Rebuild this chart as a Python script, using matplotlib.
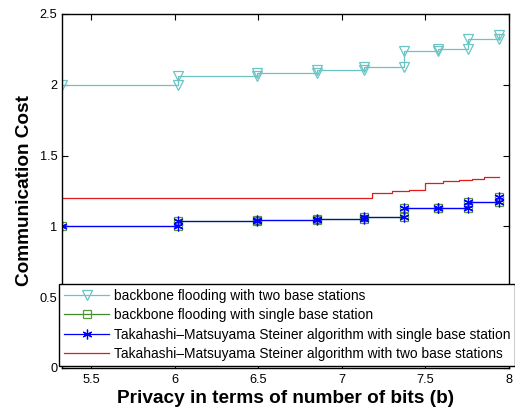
import numpy as np
import matplotlib
matplotlib.use("Agg")
import matplotlib.pyplot as plt

plt.rcParams['font.family'] = ['Liberation Sans', 'DejaVu Sans']

# data
bits = [5.324, 6.023, 6.493, 6.853, 7.133, 7.372, 7.573, 7.752, 7.942]
bb_two = [2.0, 2.062, 2.081, 2.105, 2.124, 2.241, 2.25, 2.32, 2.355]
bb_single = [1.0, 1.036, 1.045, 1.052, 1.064, 1.128, 1.13, 1.17, 1.205]
tm_single = [1.0, 1.036, 1.045, 1.052, 1.064, 1.128, 1.13, 1.17, 1.205]
tm_two_bits = [5.324, 7.180, 7.300, 7.400, 7.500, 7.606, 7.700, 7.780, 7.850, 7.938]
tm_two = [1.2, 1.234, 1.25, 1.257, 1.309, 1.318, 1.325, 1.337, 1.347, 1.347]

labels = ['backbone flooding with two base stations',
          'backbone flooding with single base station',
          'Takahashi\u2013Matsuyama Steiner algorithm with single base station',
          'Takahashi\u2013Matsuyama Steiner algorithm with two base stations']
xticks = [5.5, 6, 6.5, 7, 7.5, 8]
yticks = [0, 0.5, 1, 1.5, 2, 2.5]


def stairs(x, y):
    x = np.asarray(x, float)
    y = np.asarray(y, float)
    xs = np.repeat(x, 2)[1:]
    ys = np.repeat(y, 2)[:-1]
    return xs, ys


fig = plt.figure(figsize=(5.15, 4.09), dpi=100)
ax = fig.add_axes([61.5 / 515, 41 / 409, 447.5 / 515, 354 / 409])

xs, ys = stairs(bits, bb_two)
ax.plot(xs, ys, color='#6cc3c3', lw=0.9, marker='v', ms=7, mfc='none',
        mec='#6cc3c3', mew=0.9, label=labels[0])
xs, ys = stairs(bits, bb_single)
ax.plot(xs, ys, color='#3f8a2a', lw=0.9, marker='s', ms=6, mfc='none',
        mec='#5a9a3a', mew=0.9, label=labels[1])
xs, ys = stairs(bits, tm_single)
ax.plot(xs, ys, color='#0000ff', lw=0.9, marker=(6, 2, 0), ms=7,
        mec='#0000ff', mew=0.9, label=labels[2])
ax.plot(tm_two_bits, tm_two, color='#e41a1a', lw=0.9, drawstyle='steps-post',
        label=labels[3])

ax.set_xlim(5.324, 8)
ax.set_ylim(0, 2.5)
ax.set_xticks(xticks)
ax.set_xticklabels(['5.5', '6', '6.5', '7', '7.5', '8'])
ax.set_yticks(yticks)
ax.set_yticklabels(['0', '0.5', '1', '1.5', '2', '2.5'])
ax.tick_params(direction='in', top=True, right=True, labelsize=9.2,
               length=4, width=0.8)
ax.tick_params(axis='x', pad=4)
ax.tick_params(axis='y', pad=3)
for s in ax.spines.values():
    s.set_linewidth(1.0)

ax.set_xlabel('Privacy in terms of number of bits (b)', fontsize=13.7,
              fontweight='bold', labelpad=3)
ax.set_ylabel('Communication Cost', fontsize=13.7, fontweight='bold',
              labelpad=5)

leg = ax.legend(loc='lower left', bbox_to_anchor=(59 / 515, 43 / 409),
                bbox_transform=fig.transFigure, fontsize=9.95,
                fancybox=False, edgecolor='black', framealpha=1,
                handlelength=3.3, handletextpad=0.3, labelspacing=0.4,
                borderpad=0.35, borderaxespad=0)
leg.get_frame().set_linewidth(1.0)

fig.savefig('out.png', dpi=100)
